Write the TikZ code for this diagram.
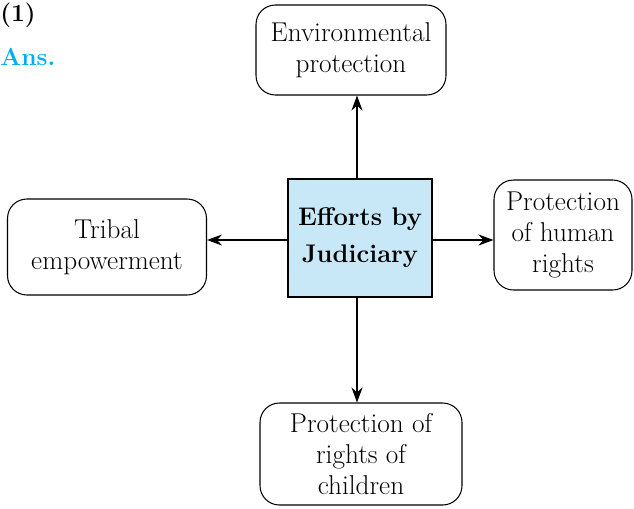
\documentclass[tikz,border=0pt]{standalone}
\usepackage{xcolor}
\usetikzlibrary{arrows.meta, positioning}
\definecolor{judblue}{RGB}{200,232,248}
\definecolor{anscyan}{RGB}{0,174,239}

\begin{document}
\begin{tikzpicture}[
        x=0.02cm, y=-0.02cm,
        ramo/.style={draw,rounded corners=11pt,align=center,semithick,inner sep=2pt,
            font=\fontsize{15.5}{17.5}\selectfont},
        centro/.style={draw,fill=judblue,align=center,semithick,minimum width=2.88cm,minimum height=2.36cm,
            font=\fontsize{14.5}{21}\selectfont\bfseries},
        seta/.style={-{Stealth[length=3mm,width=2.2mm]},semithick}
    ]
        \useasboundingbox (0,0) rectangle (634,508);
        \node[anchor=north west,inner sep=0pt,font=\fontsize{14}{17}\selectfont\bfseries] (num) at (0,3) {(1)};
        \node[anchor=north west,inner sep=0pt,font=\fontsize{14}{17}\selectfont\bfseries,text=anscyan] (ans) at (0,48) {Ans.};

        \node[centro] (jud) at (360,238) {Efforts by\\Judiciary};
        \node[ramo,minimum width=3.8cm,minimum height=1.8cm] (env) at (351,50) {Environmental\\protection};
        \node[ramo,minimum width=3.98cm,minimum height=1.92cm] (tribal) at (107,247) {Tribal\\empowerment};
        \node[ramo,minimum width=2.76cm,minimum height=2.2cm] (human) at (563,235) {Protection\\of human\\rights};
        \node[ramo,minimum width=4.04cm,minimum height=2.04cm] (child) at (361,454) {Protection of\\rights of\\children};

        \draw[seta] (jud.north -| 357,0) -- (env.south -| 357,0);
        \draw[seta] (jud.west |- 0,240) -- (tribal.east |- 0,240);
        \draw[seta] (jud.east |- 0,240) -- (human.west |- 0,240);
        \draw[seta] (jud.south -| 357,0) -- (child.north -| 357,0);
    \end{tikzpicture}
\end{document}
